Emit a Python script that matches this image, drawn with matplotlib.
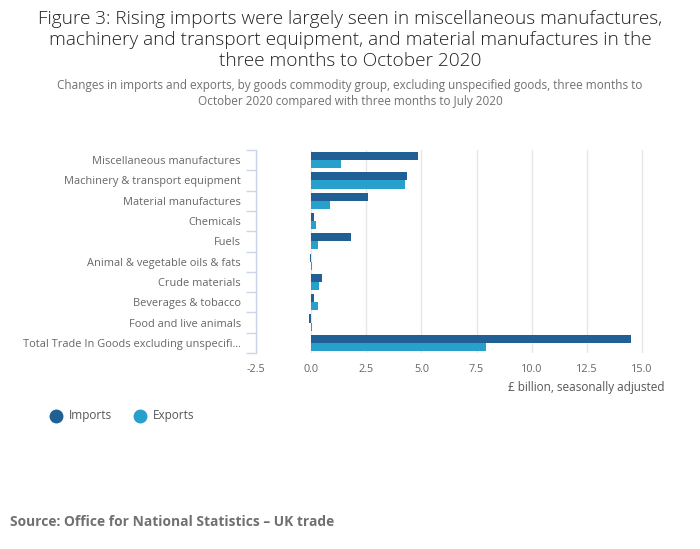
import numpy as np
import matplotlib.pyplot as plt

plt.rcParams['font.family'] = ['Open Sans', 'DejaVu Sans']

categories = [
    'Miscellaneous manufactures',
    'Machinery & transport equipment',
    'Material manufactures',
    'Chemicals',
    'Fuels',
    'Animal & vegetable oils & fats',
    'Crude materials',
    'Beverages & tobacco',
    'Food and live animals',
    'Total Trade In Goods excluding unspecifi...',
]
imports = [4.85, 4.36, 2.59, 0.15, 1.82, -0.03, 0.51, 0.15, -0.09, 14.5]
exports = [1.37, 4.27, 0.87, 0.24, 0.33, 0.02, 0.37, 0.33, 0.05, 7.93]
xticks = [-2.5, 0.0, 2.5, 5.0, 7.5, 10.0, 12.5, 15.0]

IMP_COL = '#206095'
EXP_COL = '#27a0cc'
GREY = '#707070'

fig = plt.figure(figsize=(7.0, 5.49), dpi=100)
ax = fig.add_axes([256 / 700, 1 - 353 / 549, (664 - 256) / 700, (353 - 150) / 549])

y = np.arange(len(categories))
h = 0.4
ax.barh(y - h / 2, imports, height=h, color=IMP_COL, zorder=3)
ax.barh(y + h / 2, exports, height=h, color=EXP_COL, zorder=3)

ax.set_xlim(-2.5, 16.0)
ax.set_ylim(len(categories) - 0.5, -0.5)
ax.set_xticks(xticks)
ax.set_xticklabels([f'{v:.1f}' for v in xticks])
ax.grid(axis='x', color='#e6e6e6', linewidth=1, zorder=0)

ax.set_yticks(y)
ax.set_yticklabels(categories)
ax.set_yticks(np.arange(len(categories) + 1) - 0.5, minor=True)
ax.tick_params(axis='y', which='major', length=0, pad=11, labelsize=7.95, labelcolor='#666666')
ax.tick_params(axis='y', which='minor', length=7, color='#ccd6eb', width=1)
ax.tick_params(axis='x', length=0, pad=8, labelsize=7.8, labelcolor='#666666')

for s in ['top', 'right', 'bottom']:
    ax.spines[s].set_visible(False)
ax.spines['left'].set_color('#ccd6eb')
ax.spines['left'].set_linewidth(1)

fig.text(664 / 700, 1 - 388 / 549, '£ billion, seasonally adjusted', ha='right', va='center',
         fontsize=8.5, color='#555555')

fig.text(0.5, 1 - 40 / 549,
         'Figure 3: Rising imports were largely seen in miscellaneous manufactures,\n'
         'machinery and transport equipment, and material manufactures in the\n'
         'three months to October 2020',
         ha='center', va='center', fontsize=13.7, fontweight='light', color='#222222',
         linespacing=1.2)
fig.text(0.5, 1 - 93.5 / 549,
         'Changes in imports and exports, by goods commodity group, excluding unspecified goods, three months to\n'
         'October 2020 compared with three months to July 2020',
         ha='center', va='center', fontsize=8.45, color=GREY, linespacing=1.35)

# legend
ly = 1 - 416 / 549
fig.lines.append(plt.Line2D([56 / 700], [ly], marker='o', markersize=9, color=IMP_COL,
                            transform=fig.transFigure, linestyle='none'))
fig.text(69 / 700, ly, 'Imports', ha='left', va='center', fontsize=8.5, color='#555555')
fig.lines.append(plt.Line2D([140 / 700], [ly], marker='o', markersize=9, color=EXP_COL,
                            transform=fig.transFigure, linestyle='none'))
fig.text(153 / 700, ly, 'Exports', ha='left', va='center', fontsize=8.5, color='#555555')

fig.text(10 / 700, 1 - 522 / 549, 'Source: Office for National Statistics \u2013 UK trade',
         ha='left', va='center', fontsize=9.9, fontweight='bold', color=GREY)

fig.savefig('out.png', dpi=100, facecolor='white')
